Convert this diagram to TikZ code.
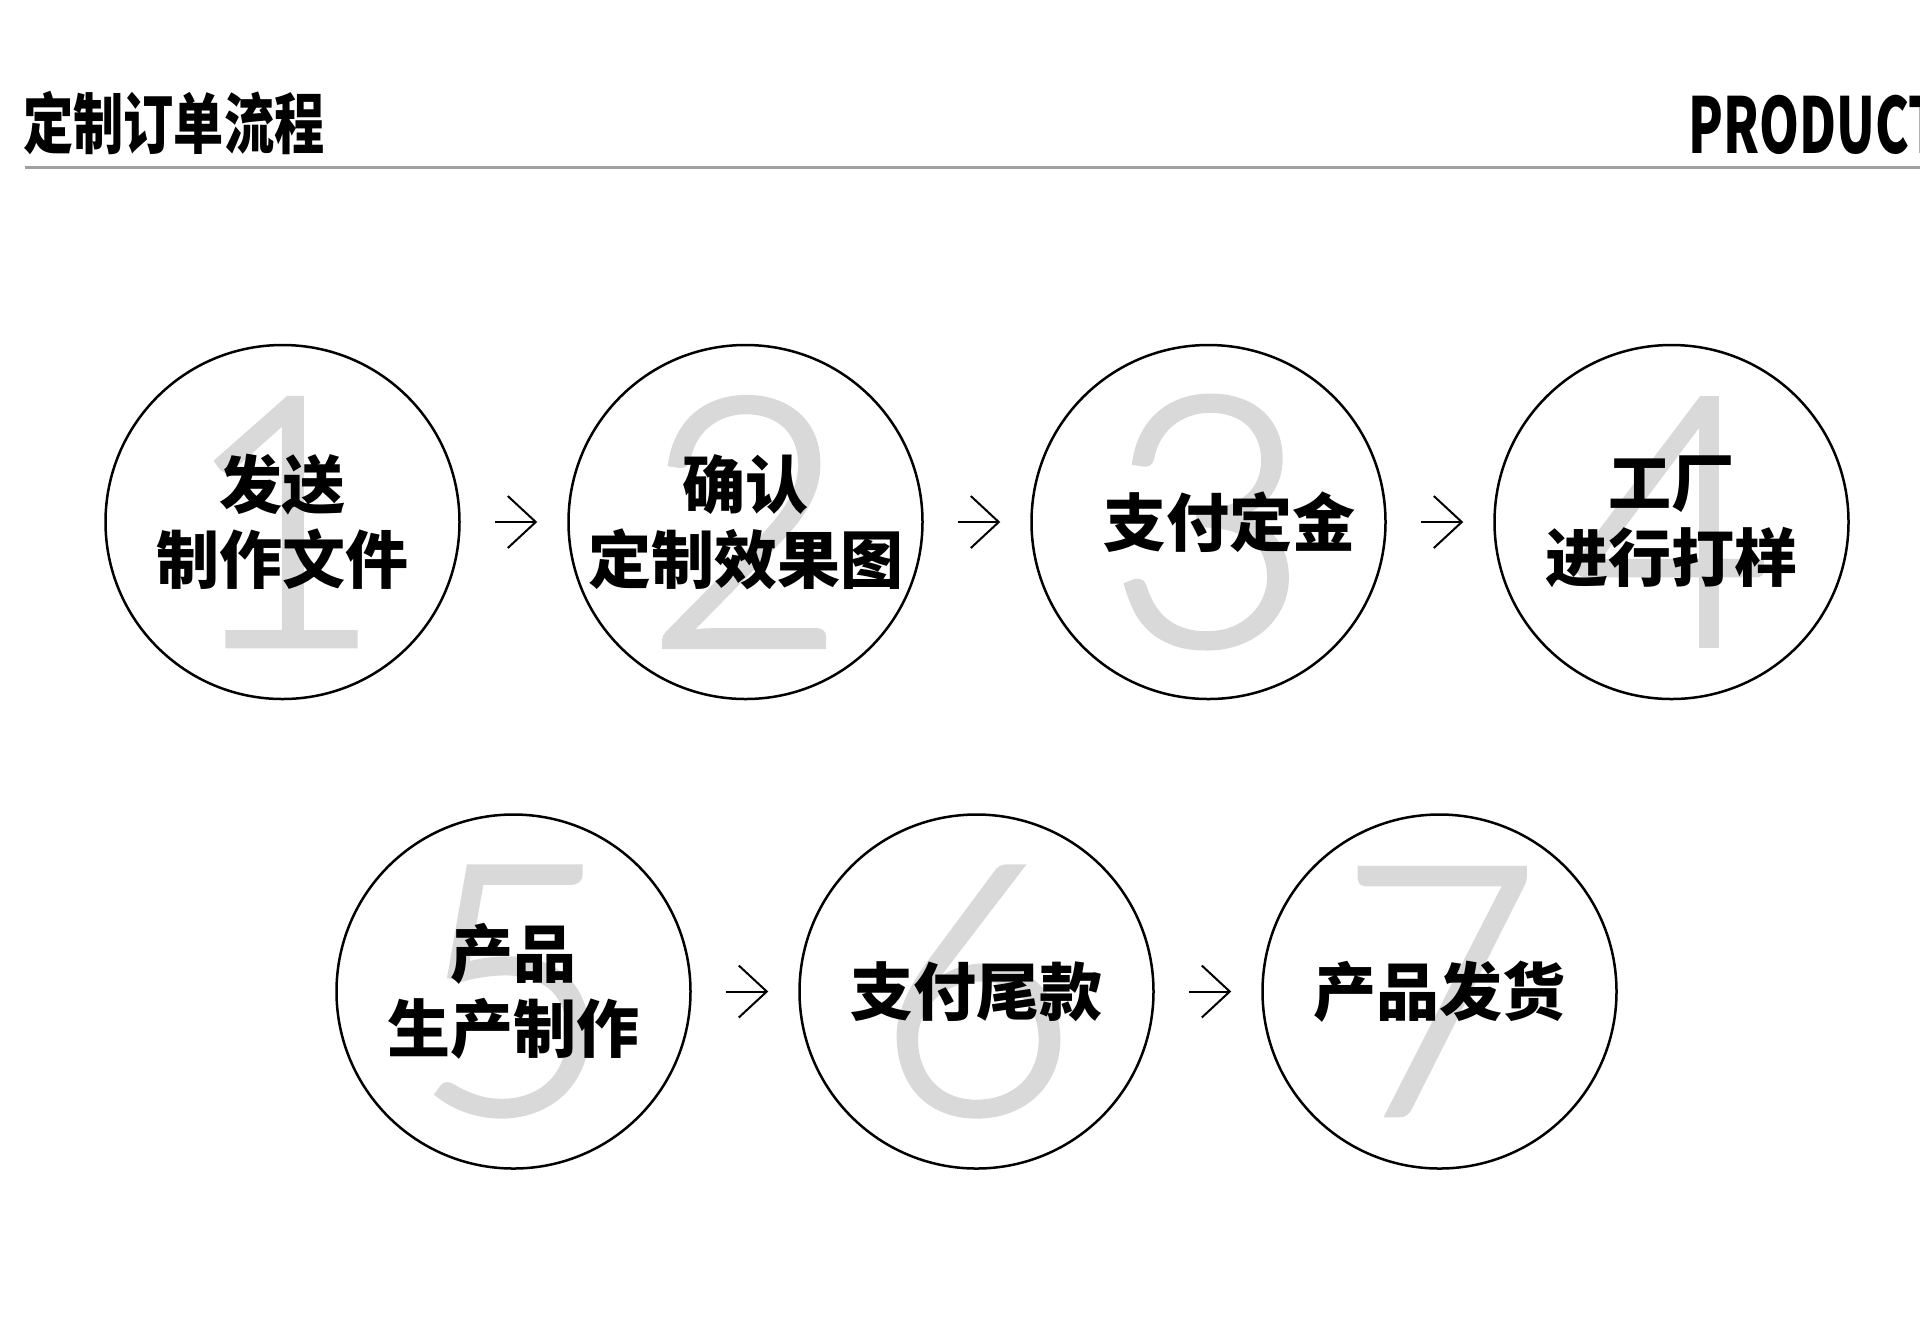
\documentclass[tikz,border=0pt]{standalone}
\usepackage{fontspec}
\usepackage{tikz}
\usetikzlibrary{arrows.meta, positioning, backgrounds}
\newfontfamily\cjk{Noto Sans CJK SC}
\newfontfamily\headfont{Noto Sans CJK SC}[FakeStretch=0.76]
\newfontfamily\productfont{Noto Sans CJK SC}[FakeStretch=0.66]
\IfFontExistsTF{Lato Light}{\newfontfamily\digitfont{Lato Light}[FakeBold=1.5]}{\newfontfamily\digitfont{Lato}}
\definecolor{rulegray}{RGB}{160,160,160}
\definecolor{digitgray}{RGB}{217,217,217}

\begin{document}
\begin{tikzpicture}[x=0.5pt, y=-0.5pt,
    stepcircle/.style={draw, circle, line width=1.25pt, minimum size=177pt,
                inner sep=0pt, align=center,
                font=\cjk\bfseries\fontsize{31.5}{37.5}\selectfont},
    digit/.style={text=digitgray, inner sep=0pt,
                font=\digitfont\fontsize{174}{174}\selectfont},
    arrow/.style={-{Straight Barb[length=14pt,width=26pt]}, line width=1pt,
                shorten <=17pt, shorten >=15pt},
    node distance=53.25pt
  ]
  \useasboundingbox (0,0) rectangle (1920,1341);

  % Header
  \node[anchor=west, inner sep=0pt, font=\headfont\bfseries\fontsize{33}{33}\selectfont]
        (title) at (23,123) {定制订单流程};
  \node[anchor=base west, inner sep=0pt, font=\productfont\bfseries\fontsize{38.5}{38.5}\selectfont]
        (product) at (1688,153) {PRODUCT};
  \coordinate (rulestart) at (25,167);
  \coordinate (ruleend)   at (1920,167);
  \draw[rulegray, line width=1.5pt] (rulestart) -- (ruleend);

  % Steps
  \node[stepcircle] (c1) at (282.5,522) {发送\\制作文件};
  \node[stepcircle, right=of c1] (c2) {确认\\定制效果图};
  \node[stepcircle, right=of c2] (c3) {\hspace*{21pt}支付定金};
  \node[stepcircle, right=of c3] (c4) {工厂\\进行打样};

  \node[stepcircle, below=56.5pt of c1, xshift=115.5pt] (c5) {产品\\生产制作};
  \node[stepcircle, right=of c5] (c6) {支付尾款};
  \node[stepcircle, right=of c6] (c7) {产品发货};

  % Big numbers behind the text
  \begin{scope}[on background layer]
    \node[digit] (n1) at (c1) {1};
    \node[digit] (n2) at (c2) {2};
    \node[digit] (n3) at (c3) {3};
    \node[digit] (n4) at (c4) {4};
    \node[digit] (n5) at (c5) {5};
    \node[digit] (n6) at (c6) {6};
    \node[digit] (n7) at (c7) {7};
  \end{scope}

  % Arrows
  \draw[arrow] (c1) -- (c2);
  \draw[arrow] (c2) -- (c3);
  \draw[arrow] (c3) -- (c4);
  \draw[arrow] (c5) -- (c6);
  \draw[arrow] (c6) -- (c7);
\end{tikzpicture}
\end{document}
